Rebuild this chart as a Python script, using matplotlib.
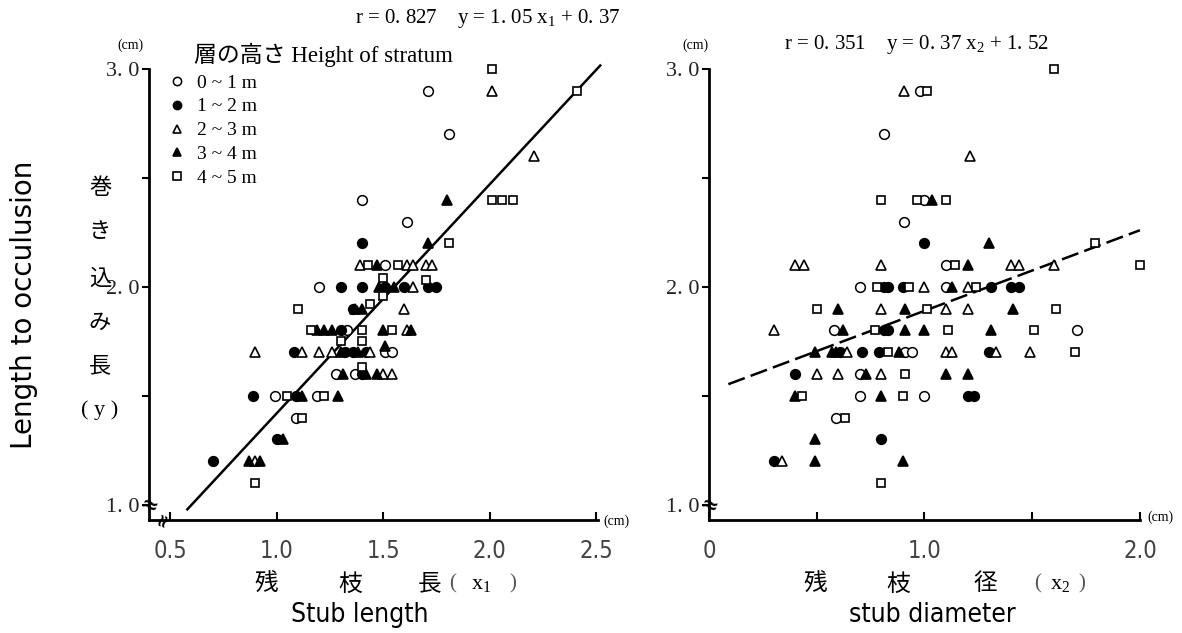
import matplotlib
matplotlib.use("Agg")
import matplotlib.pyplot as plt
from matplotlib.lines import Line2D
import numpy as np

plt.rcParams["mathtext.fontset"] = "custom"
plt.rcParams["mathtext.rm"] = "Liberation Serif"
plt.rcParams["mathtext.it"] = "Liberation Serif"

# ---------------- data ----------------
categories = ["0 ~ 1 m", "1 ~ 2 m", "2 ~ 3 m", "3 ~ 4 m", "4 ~ 5 m"]

# Left panel: stub length (x1) vs length to occlusion (y)
L_c0_x = [1.71, 1.81, 1.40, 1.61, 1.20, 1.51, 1.33, 1.51, 1.54, 1.28, 1.37, 0.99, 1.19, 1.09]
L_c0_y = [2.9, 2.7, 2.4, 2.3, 2.0, 2.1, 1.8, 1.7, 1.7, 1.6, 1.6, 1.5, 1.5, 1.4]
L_c1_x = [0.70, 1.00, 0.89, 1.09, 1.08, 1.32, 1.36, 1.42, 1.40, 1.30, 1.30, 1.40, 1.51, 1.60, 1.71, 1.75, 1.40, 1.36]
L_c1_y = [1.2, 1.3, 1.5, 1.5, 1.7, 1.7, 1.7, 1.7, 1.6, 1.8, 2.0, 2.0, 2.0, 2.0, 2.0, 2.0, 2.2, 1.9]
L_c2_x = [0.90, 1.12, 1.20, 1.26, 0.90, 1.50, 1.54, 1.61, 1.60, 1.64, 1.39, 1.61, 1.64, 1.70, 1.73, 2.01, 2.21, 1.44]
L_c2_y = [1.7, 1.7, 1.7, 1.7, 1.2, 1.6, 1.6, 1.8, 1.9, 2.0, 2.1, 2.1, 2.1, 2.1, 2.1, 2.9, 2.6, 1.7]
L_c3_x = [0.87, 0.92, 1.03, 1.12, 1.29, 1.31, 1.42, 1.47, 1.19, 1.22, 1.26, 1.50, 1.63, 1.37, 1.40,
          1.48, 1.55, 1.47, 1.71, 1.80, 1.30, 1.38, 1.51]
L_c3_y = [1.2, 1.2, 1.3, 1.5, 1.5, 1.6, 1.6, 1.6, 1.8, 1.8, 1.8, 1.8, 1.8, 1.9, 1.9,
          2.0, 2.0, 2.1, 2.2, 2.4, 1.7, 1.7, 1.73]
L_c4_x = [0.90, 1.12, 1.05, 1.22, 1.40, 1.30, 1.40, 1.16, 1.40, 1.54, 1.10, 1.44, 1.50, 1.50, 1.70,
          1.43, 1.57, 1.81, 2.01, 2.06, 2.11, 2.01, 2.41]
L_c4_y = [1.1, 1.4, 1.5, 1.5, 1.63, 1.75, 1.75, 1.8, 1.8, 1.8, 1.9, 1.92, 2.04, 1.96, 2.03,
          2.1, 2.1, 2.2, 2.4, 2.4, 2.4, 3.0, 2.9]

# Right panel: stub diameter (x2) vs length to occlusion (y)
R_c0_x = [0.98, 0.81, 1.00, 0.905, 1.10, 0.70, 1.10, 0.58, 1.71, 0.91, 0.94, 0.70, 0.70, 1.00, 0.59]
R_c0_y = [2.9, 2.7, 2.4, 2.3, 2.1, 2.0, 2.0, 1.8, 1.8, 1.7, 1.7, 1.6, 1.5, 1.5, 1.4]
R_c1_x = [1.00, 0.81, 0.83, 0.90, 1.31, 1.40, 1.44, 0.81, 0.83, 0.61, 0.71, 0.79, 1.30, 0.40, 1.20, 1.23, 0.80, 0.30]
R_c1_y = [2.2, 2.0, 2.0, 2.0, 2.0, 2.0, 2.0, 1.8, 1.8, 1.7, 1.7, 1.7, 1.7, 1.6, 1.5, 1.5, 1.3, 1.2]
R_c2_x = [0.905, 1.21, 0.40, 0.44, 0.80, 1.40, 1.44, 1.60, 1.00, 1.20, 0.80, 1.10, 1.20, 0.30, 0.64,
          1.10, 1.13, 1.33, 1.49, 0.50, 0.60, 0.80, 0.34]
R_c2_y = [2.9, 2.6, 2.1, 2.1, 2.1, 2.1, 2.1, 2.1, 2.0, 2.0, 1.9, 1.9, 1.9, 1.8, 1.7,
          1.7, 1.7, 1.7, 1.7, 1.6, 1.6, 1.6, 1.2]
R_c3_x = [1.035, 1.30, 1.20, 1.13, 0.60, 0.91, 1.41, 0.62, 0.91, 1.00, 1.31, 0.49, 0.57, 0.59, 0.88,
          0.73, 1.10, 1.20, 0.40, 0.80, 0.49, 0.49, 0.90]
R_c3_y = [2.4, 2.2, 2.1, 2.0, 1.9, 1.9, 1.9, 1.8, 1.8, 1.8, 1.8, 1.7, 1.7, 1.7, 1.7,
          1.6, 1.6, 1.6, 1.5, 1.5, 1.3, 1.2, 1.2]
R_c4_x = [1.60, 1.01, 0.80, 0.965, 1.10, 1.79, 1.14, 2.00, 0.78, 0.93, 1.24, 0.50, 1.01, 1.61, 0.77,
          1.11, 1.51, 0.83, 1.70, 0.91, 0.43, 0.90, 0.63, 0.80]
R_c4_y = [3.0, 2.9, 2.4, 2.4, 2.4, 2.2, 2.1, 2.1, 2.0, 2.0, 2.0, 1.9, 1.9, 1.9, 1.8,
          1.8, 1.8, 1.7, 1.7, 1.6, 1.5, 1.5, 1.4, 1.1]

# regression lines
left_slope, left_icept = 1.05, 0.37
left_range = [0.58, 2.52]
right_slope, right_icept = 0.37, 1.52
right_range = [0.09, 2.0]

left_xticks = [0.5, 1.0, 1.5, 2.0, 2.5]
left_xticklabels = ["0.5", "1.0", "1.5", "2.0", "2.5"]
right_xticks = [0, 1.0, 2.0]
right_xticklabels = ["0", "1.0", "2.0"]
right_xminor = [0.5, 1.5]
yticks_major = [1.0, 2.0, 3.0]
yticklabels = ["1. 0", "2. 0", "3. 0"]
yticks_minor = [1.5, 2.5]

# ---------------- style ----------------
SERIF = ["Liberation Serif", "DejaVu Serif"]

styles = [
    dict(marker="o", mfc="white", mec="black", ms=7.0, mew=1.1),
    dict(marker="o", mfc="black", mec="black", ms=7.0, mew=1.1),
    dict(marker="^", mfc="white", mec="black", ms=6.5, mew=1.2),
    dict(marker="^", mfc="black", mec="black", ms=6.5, mew=1.2),
    dict(marker="s", mfc="white", mec="black", ms=6.3, mew=1.2),
]

W, H = 1182, 633
fig = plt.figure(figsize=(11.82, 6.33), dpi=100)
axL = fig.add_axes([0.1261, 0.1785, 0.3799, 0.7125])
axR = fig.add_axes([0.5998, 0.1785, 0.3646, 0.7125])

def ftext(xp, yp, s, **kw):
    kw.setdefault("ha", "center")
    kw.setdefault("va", "center")
    return fig.text(xp / W, 1 - yp / H, s, **kw)

left_sets = [(L_c0_x, L_c0_y), (L_c1_x, L_c1_y), (L_c2_x, L_c2_y), (L_c3_x, L_c3_y), (L_c4_x, L_c4_y)]
right_sets = [(R_c0_x, R_c0_y), (R_c1_x, R_c1_y), (R_c2_x, R_c2_y), (R_c3_x, R_c3_y), (R_c4_x, R_c4_y)]

for ax, sets, slope, icept, rng, dash in [
    (axL, left_sets, left_slope, left_icept, left_range, None),
    (axR, right_sets, right_slope, right_icept, right_range, (7, 2.5)),
]:
    xs = np.array(rng)
    ln, = ax.plot(xs, slope * xs + icept, color="black", lw=1.8, zorder=1, clip_on=False)
    if dash:
        ln.set_dashes(dash)
    for (x, y), st in zip(sets, styles):
        ax.plot(x, y, linestyle="none", zorder=3, clip_on=False, **st)
    for s in ["top", "right"]:
        ax.spines[s].set_visible(False)
    for s in ["left", "bottom"]:
        ax.spines[s].set_linewidth(2.0)
    ax.set_ylim(0.93, 3.0)
    ax.set_yticks(yticks_major)
    ax.set_yticklabels(yticklabels, fontfamily=SERIF, fontsize=16, color="#222222")
    ax.set_yticks(yticks_minor, minor=True)
    ax.tick_params(axis="y", which="both", direction="out", length=5, width=1.5, pad=2)
    ax.tick_params(axis="x", which="both", direction="in", length=6, width=1.5, pad=14)

axL.set_xlim(0.40, 2.51)
axL.set_xticks(left_xticks)
axL.set_xticklabels(left_xticklabels, fontfamily="DejaVu Sans", fontstretch="condensed",
                    fontsize=17, color="#444444")
axR.set_xlim(0.0, 2.0)
axR.set_xticks(right_xticks)
axR.set_xticklabels(right_xticklabels, fontfamily="DejaVu Sans", fontstretch="condensed",
                    fontsize=17, color="#444444")
axR.set_xticks(right_xminor, minor=True)

# break marks
for ax in (axL, axR):
    ax.text(0.0, 0.03, "≈", transform=ax.transAxes, ha="center", va="center",
            fontsize=15, fontweight="bold", rotation=-20)
axL.text(0.03, 0.0, "≈", transform=axL.transAxes, ha="center", va="center",
         fontsize=13, fontweight="bold", rotation=70)

# unit labels
ftext(130, 45, "(cm)", fontfamily=SERIF, fontsize=10)
ftext(695, 45, "(cm)", fontfamily=SERIF, fontsize=10)
ftext(616, 521, "(cm)", fontfamily=SERIF, fontsize=10)
ftext(1160, 517, "(cm)", fontfamily=SERIF, fontsize=10)

# equations
ftext(488, 18, r"r = 0. 827    y = 1. 05 x$_1$ + 0. 37", fontfamily=SERIF, fontsize=15)
ftext(917, 45, r"r = 0. 351    y = 0. 37 x$_2$ + 1. 52", fontfamily=SERIF, fontsize=15)

# legend
handles = [Line2D([], [], linestyle="none", **st) for st in styles]
for h in handles:
    h.set_markersize(h.get_markersize() * 0.85)
leg = axL.legend(handles, categories,
                 loc="upper left", bbox_to_anchor=(0.02, 1.019), frameon=False,
                 prop=dict(family=SERIF, size=14), handlelength=0.6, handletextpad=0.7,
                 labelspacing=0.32, borderpad=0.2)
ftext(194, 55, "層の高さ Height of stratum", family=["Liberation Serif", "Noto Sans CJK JP"],
      fontsize=16.5, ha="left")

# y labels
ftext(24, 305, "Length to occulusion", rotation=90, fontfamily="DejaVu Sans", fontsize=20)
for ch, ypx in zip("巻き込み長", [188, 232, 278, 322, 366]):
    ftext(100, ypx, ch, fontfamily="Noto Sans CJK JP", fontsize=16)
ftext(100, 410, "( y )", fontfamily=SERIF, fontsize=16)

# x labels
for ch, xp in zip("残枝長", [266, 350, 430]):
    ftext(xp, 584, ch, fontfamily="Noto Sans CJK JP", fontsize=17)
ftext(453, 584, "(", fontfamily=SERIF, fontsize=15, color="#555555")
ftext(481, 584, r"x$_1$", fontfamily=SERIF, fontsize=16)
ftext(513, 584, ")", fontfamily=SERIF, fontsize=15, color="#555555")
ftext(360, 615, "Stub length", fontfamily="DejaVu Sans", fontstretch="condensed", fontsize=19)

for ch, xp in zip("残枝径", [815, 898, 985]):
    ftext(xp, 584, ch, fontfamily="Noto Sans CJK JP", fontsize=17)
ftext(1038, 584, "(", fontfamily=SERIF, fontsize=15, color="#555555")
ftext(1060, 584, r"x$_2$", fontfamily=SERIF, fontsize=16)
ftext(1082, 584, ")", fontfamily=SERIF, fontsize=15, color="#555555")
ftext(932, 615, "stub diameter", fontfamily="DejaVu Sans", fontstretch="condensed", fontsize=19)

fig.savefig("out.png", dpi=100)
